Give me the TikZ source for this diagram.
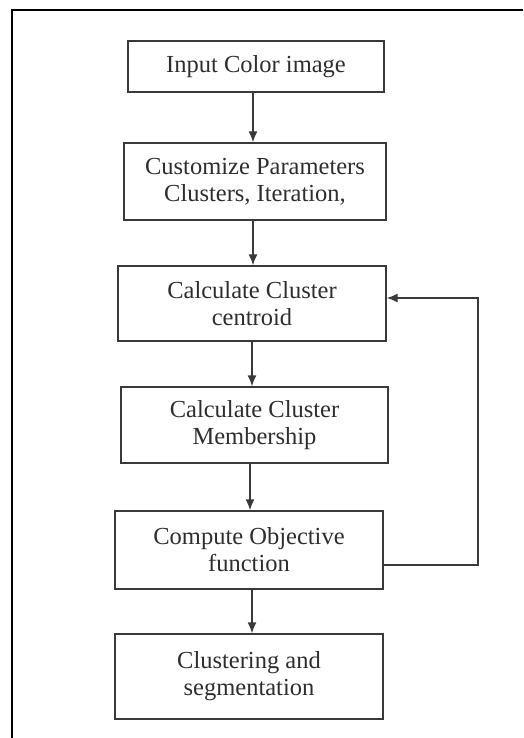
\documentclass[tikz,border=0pt]{standalone}
\usepackage{fontspec}
\setmainfont{Liberation Serif}
\usepackage{xcolor}
\usepackage{tikz}
\usetikzlibrary{arrows.meta}

\definecolor{boxgray}{HTML}{3A3A3A}
\definecolor{txtgray}{HTML}{2E2E2E}

\tikzset{
  stepbox/.style={draw=boxgray, line width=1.4pt, align=center, inner sep=2pt,
    text=txtgray, font=\fontsize{24.5}{27}\selectfont},
  flow/.style={draw=boxgray, line width=1.4pt, -{Latex[length=11pt,width=9pt]}}
}

\begin{document}
\begin{tikzpicture}[x=1pt,y=-1pt]
      \useasboundingbox (0,0) rectangle (523,738);

      % Outer frame (cut off on the right and bottom)
      \draw[line width=2pt] (12,738) -- (12,10) -- (523,10);

      % Steps
      \node[stepbox, minimum width=256pt, minimum height=51pt] (input) at (256,66.5) {Input Color image};
      \node[stepbox, minimum width=262pt, minimum height=77pt] (param) at (255,181.5) {Customize Parameters\\Clusters, Iteration,};
      \node[stepbox, minimum width=268pt, minimum height=75pt] (centroid) at (252,303.5) {Calculate Cluster\\centroid};
      \node[stepbox, minimum width=267pt, minimum height=76pt] (member) at (254.5,425) {Calculate Cluster\\Membership};
      \node[stepbox, minimum width=268pt, minimum height=78pt] (objective) at (249,550) {Compute Objective\\function};
      \node[stepbox, minimum width=268pt, minimum height=85pt] (segment) at (249,676.5) {Clustering and\\segmentation};

      % Loop corner
      \coordinate (loop) at (478,298);

      % Arrows
      \draw[flow] ([xshift=-3pt]input.south) -- ([xshift=-3pt]input.south |- param.north);
      \draw[flow] ([xshift=-2pt]param.south) -- ([xshift=-2pt]param.south |- centroid.north);
      \draw[flow] (centroid.south) -- (centroid.south |- member.north);
      \draw[flow] ([xshift=-4.5pt]member.south) -- ([xshift=-4.5pt]member.south |- objective.north);
      \draw[flow] ([xshift=3pt]objective.south) -- ([xshift=3pt]objective.south |- segment.north);
      \draw[flow] ([yshift=-15pt]objective.east) -| (loop) -- (loop -| centroid.east);

  \end{tikzpicture}
\end{document}
